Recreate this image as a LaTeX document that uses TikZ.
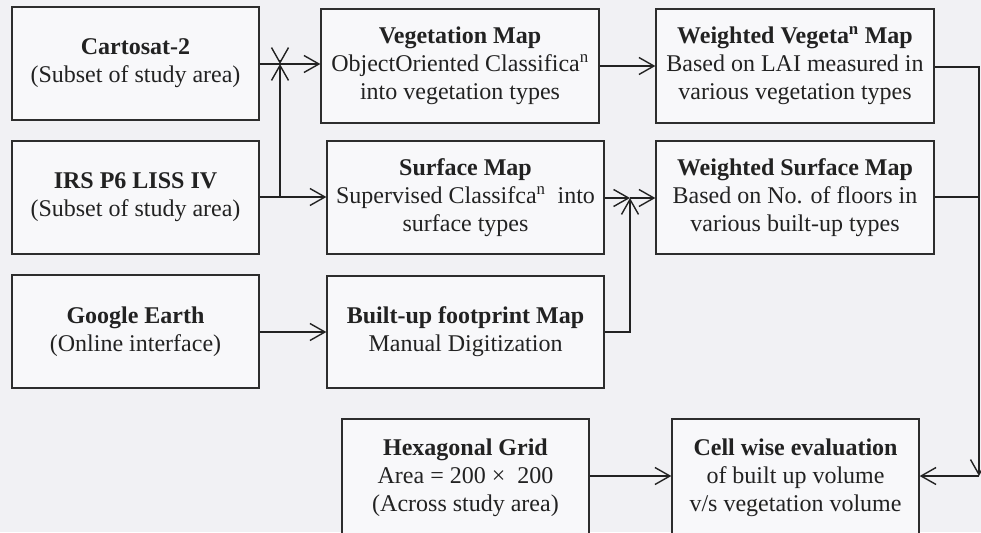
\documentclass[tikz,border=0pt]{standalone}
\usepackage{fontspec}
\setmainfont{Liberation Serif}
\usetikzlibrary{arrows.meta}
\definecolor{ink}{RGB}{34,34,34}
\definecolor{boxline}{RGB}{45,45,45}
\definecolor{paper}{RGB}{241,241,244}
\definecolor{boxfill}{RGB}{248,248,250}
\begin{document}
\begin{tikzpicture}[x=1pt,y=-1pt,
  box/.style={draw=boxline, line width=1.3pt, fill=boxfill, align=center,
    inner sep=0pt, text=ink, font=\fontsize{24}{28}\selectfont},
  wide/.style={minimum width=278pt},
  narrow/.style={minimum width=247pt},
  link/.style={draw=ink, line width=1.4pt},
  tip/.style={link, -{Straight Barb[length=15pt,width=17pt]}}]
% canvas
\clip (0,0) rectangle (981,532);
\fill[paper] (0,0) rectangle (981,532);

% column 1: data sources
\node[box, narrow, minimum height=113pt] (carto) at (135.5,63.5)
  {\textbf{Cartosat-2}\\(Subset of study area)};
\node[box, narrow, minimum height=113pt] (irs) at (135.5,197.5)
  {\textbf{IRS P6 LISS IV}\\(Subset of study area)};
\node[box, narrow, minimum height=113pt] (google) at (135.5,331.5)
  {\textbf{Google Earth}\\(Online interface)};

% column 2: derived maps
\node[box, wide, minimum height=114pt] (veg) at (460,66)
  {\textbf{Vegetation Map}\\ObjectOriented Classifica\textsuperscript{n}\\into vegetation types};
\node[box, minimum width=277pt, minimum height=113pt] (surf) at (465.5,197.5)
  {\textbf{Surface Map}\\Supervised Classifca\textsuperscript{n}\ \ into\\surface types};
\node[box, minimum width=277pt, minimum height=112pt] (built) at (465.5,332)
  {\textbf{Built-up footprint Map}\\Manual Digitization};

% column 3: weighted maps
\node[box, wide, minimum height=114pt] (wveg) at (795,66)
  {\textbf{Weighted Vegeta\textsuperscript{n} Map}\\Based on LAI measured in\\various vegetation types};
\node[box, wide, minimum height=113pt] (wsurf) at (795,197.5)
  {\textbf{Weighted Surface Map}\\Based on No. of floors in\\various built-up types};

% bottom row
\node[box, narrow, minimum height=118pt] (hex) at (465.5,478)
  {\textbf{Hexagonal Grid}\\Area = 200 ×\ \ 200\\(Across study area)};
\node[box, narrow, minimum height=118pt] (cell) at (795.5,478)
  {\textbf{Cell wise evaluation}\\of built up volume\\v/s vegetation volume};

% junction points
\coordinate (j1) at (280,64);
\coordinate (j1top) at (280,60);
\coordinate (j1low) at (280,197);
\coordinate (j2) at (630,198);
\coordinate (grow) at (300,332);
\coordinate (wvr) at (979,67);
\coordinate (wsr) at (979,197);
\coordinate (corner) at (979,476);

% sources to maps
\draw[link] (carto.east |- j1) -- (j1);
\draw[tip] (j1top) -- (j1);
\draw[tip] (j1) -- (veg.west |- j1);
\draw[tip] (irs.east |- j1low) -- (j1low) -- (j1);
\draw[tip] (j1low) -- (surf.west |- j1low);
\draw[tip] (google.east |- grow) -- (built.west |- grow);

% maps to weighted maps
\draw[tip] (veg.east) -- (wveg.west);
\draw[tip] (surf.east |- j2) -- (j2);
\draw[tip] (built.east |- grow) -| (j2);
\draw[tip] (j2) -- (wsurf.west |- j2);

% weighted maps to evaluation
\draw[tip] (wveg.east |- wvr) -- (wvr) -- (corner);
\draw[link] (wsurf.east |- wsr) -- (wsr);
\draw[tip] (corner) -- (cell.east |- corner);
\draw[tip] (hex.east |- corner) -- (cell.west |- corner);
\end{tikzpicture}
\end{document}
